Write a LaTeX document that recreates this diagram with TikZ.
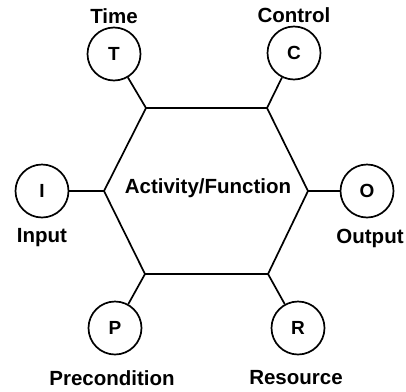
\documentclass[tikz,border=0pt]{standalone}
\usepackage{fontspec}
\setmainfont{Liberation Sans}
\begin{document}
\begin{tikzpicture}[x=1pt,y=-1pt,
  line width=1.7pt,
  letter/.style={circle,draw,line width=1.7pt,minimum size=53pt,inner sep=0pt,font=\bfseries\fontsize{19}{19}\selectfont},
  lbl/.style={inner sep=0pt,font=\bfseries\fontsize{20.5}{20.5}\selectfont}]
\useasboundingbox (0,0) rectangle (406,391);
\coordinate (tl) at (146,108);
\coordinate (tr) at (267,108);
\coordinate (r) at (308,191);
\coordinate (br) at (268,274);
\coordinate (bl) at (145,274);
\coordinate (l) at (104,191);
\draw[line join=miter] (tl) -- (tr) -- (r) -- (br) -- (bl) -- (l) -- cycle;
\node[lbl] (act) at (208,188) {Activity/Function};
\node[letter] (T) at (114,54) {T};
\node[letter] (C) at (294,53) {C};
\node[letter] (I) at (42,191) {I};
\node[letter] (O) at (367,191) {O};
\node[letter] (P) at (115,328) {P};
\node[letter] (R) at (298,328) {R};
\draw (T) -- (tl);
\draw (C) -- (tr);
\draw (I) -- (l);
\draw (O) -- (r);
\draw (P) -- (bl);
\draw (R) -- (br);
\node[lbl] (tT) at (114,16) {Time};
\node[lbl] (tC) at (294,15) {Control};
\node[lbl] (tI) at (42,238) {Input};
\node[lbl] (tO) at (370,238) {Output};
\node[lbl] (tP) at (112,378) {Precondition};
\node[lbl] (tR) at (296,378) {Resource};
\end{tikzpicture}
\end{document}
